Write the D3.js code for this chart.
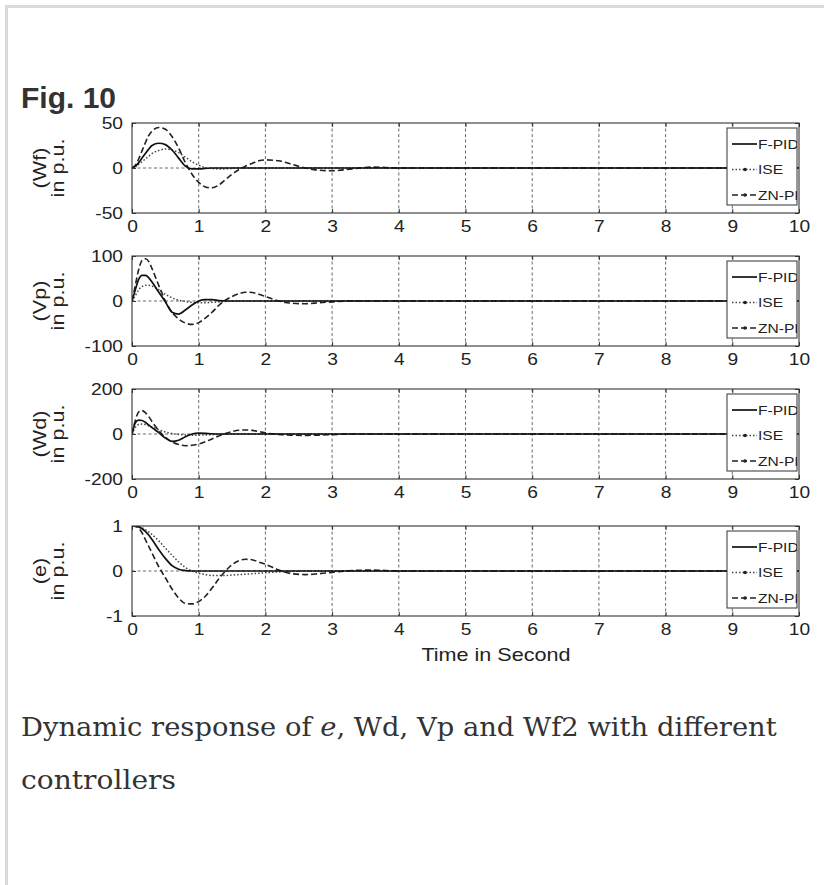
<!DOCTYPE html>
<html>
<head>
<meta charset="utf-8">
<script src="https://cdn.jsdelivr.net/npm/d3@7"></script>
<style>
  body { margin: 0; background: #fff; }
  svg { display: block; }
</style>
</head>
<body>
<div id="chart"></div>
<script>
// time axis (s) and the read-off values for each panel / controller
var TIME = [0, 0.05, 0.1, 0.15, 0.2, 0.25, 0.3, 0.4, 0.5, 0.6, 0.7, 0.8, 0.9, 1.0, 1.1, 1.2, 1.3, 1.4, 1.5, 1.6, 1.7, 1.8, 1.9, 2.0, 2.2, 2.4, 2.6, 2.8, 3.0, 3.3, 3.6, 4.0, 5, 6, 7, 8, 9, 10];

var WF_FPID = [0, 2, 6, 11, 16, 21, 25, 27.5, 26, 20, 11, 2, -1, -1, -0.5, 0, 0, 0, 0, 0, 0, 0, 0, 0, 0, 0, 0, 0, 0, 0, 0, 0, 0, 0, 0, 0, 0, 0];
var WF_ISE  = [0, 1, 4, 7, 10, 13, 16, 19.5, 21, 20, 17, 12, 7, 3, 0.5, -0.5, -1, -1, -0.5, 0, 0, 0, 0, 0, 0, 0, 0, 0, 0, 0, 0, 0, 0, 0, 0, 0, 0, 0];
var WF_ZNPI = [0, 3, 10, 19, 28, 36, 41, 45, 43, 35, 22, 6, -7, -16, -21, -22, -19, -13, -7, -2, 2, 5, 8, 9, 8, 4, 0, -2.5, -3, -1, 1, 0, 0, 0, 0, 0, 0, 0];

var VP_FPID = [0, 25, 48, 57, 57, 52, 42, 20, -2, -25, -29, -20, -9, 0, 3, 3, 1, 0, 0, 0, 0, 0, 0, 0, 0, 0, 0, 0, 0, 0, 0, 0, 0, 0, 0, 0, 0, 0];
var VP_ISE  = [0, 12, 25, 32, 35, 35, 33, 25, 15, 7, 2, -1, -3, -4, -4, -3, -2, -1, 0, 0, 0, 0, 0, 0, 0, 0, 0, 0, 0, 0, 0, 0, 0, 0, 0, 0, 0, 0];
var VP_ZNPI = [0, 35, 70, 90, 94, 88, 72, 35, 0, -25, -40, -49, -52, -48, -38, -25, -10, 2, 10, 16, 19.5, 19, 15, 10, 0, -5, -6, -4, -2, 0, 0, 0, 0, 0, 0, 0, 0, 0];

var WD_FPID = [0, 50, 62, 60, 52, 40, 28, 6, -18, -33, -28, -12, 0, 4, 3, 1, 0, 0, 0, 0, 0, 0, 0, 0, 0, 0, 0, 0, 0, 0, 0, 0, 0, 0, 0, 0, 0, 0];
var WD_ISE  = [0, 30, 42, 44, 42, 37, 31, 19, 9, 2, -2, -4, -5, -5, -4, -3, -2, -1, 0, 0, 0, 0, 0, 0, 0, 0, 0, 0, 0, 0, 0, 0, 0, 0, 0, 0, 0, 0];
var WD_ZNPI = [0, 60, 98, 104, 95, 78, 55, 15, -15, -35, -47, -52, -50, -44, -34, -22, -9, 2, 11, 17, 18, 16, 11, 5, -2, -5, -6, -5, -3, 0, 0, 0, 0, 0, 0, 0, 0, 0];

var E_FPID = [1, 1, 0.98, 0.94, 0.88, 0.8, 0.7, 0.48, 0.28, 0.12, 0.04, 0.01, 0, 0, 0, 0, 0, 0, 0, 0, 0, 0, 0, 0, 0, 0, 0, 0, 0, 0, 0, 0, 0, 0, 0, 0, 0, 0];
var E_ISE  = [1, 1, 0.98, 0.96, 0.92, 0.87, 0.81, 0.67, 0.51, 0.35, 0.2, 0.08, 0, -0.05, -0.08, -0.1, -0.1, -0.1, -0.09, -0.08, -0.07, -0.06, -0.05, -0.04, -0.02, -0.01, 0, 0, 0, 0, 0, 0, 0, 0, 0, 0, 0, 0];
var E_ZNPI = [1, 0.99, 0.95, 0.85, 0.7, 0.55, 0.4, 0.1, -0.15, -0.4, -0.6, -0.72, -0.73, -0.68, -0.56, -0.38, -0.18, 0, 0.14, 0.23, 0.26, 0.25, 0.2, 0.15, 0.02, -0.06, -0.08, -0.06, -0.03, 0.01, 0.02, 0, 0, 0, 0, 0, 0, 0];

var X_TICKS = [0, 1, 2, 3, 4, 5, 6, 7, 8, 9, 10];
var WF_TICKS = [-50, 0, 50];
var VP_TICKS = [-100, 0, 100];
var WD_TICKS = [-200, 0, 200];
var E_TICKS = [-1, 0, 1];

var PANEL_NAMES = ["(Wf)", "(Vp)", "(Wd)", "(e)"];
var LEGEND_NAMES = ["F-PID", "ISE", "ZN-PI"];

var PANELS = [
    {name: PANEL_NAMES[0], ticks: WF_TICKS, series: [WF_FPID, WF_ISE, WF_ZNPI]},
    {name: PANEL_NAMES[1], ticks: VP_TICKS, series: [VP_FPID, VP_ISE, VP_ZNPI]},
    {name: PANEL_NAMES[2], ticks: WD_TICKS, series: [WD_FPID, WD_ISE, WD_ZNPI]},
    {name: PANEL_NAMES[3], ticks: E_TICKS, series: [E_FPID, E_ISE, E_ZNPI]}
];

// layout
var W = 824, H = 885;
var PLOT_LEFT = 132, PLOT_RIGHT = 799;
var PANEL_TOPS = [123, 256, 389, 526];
var PANEL_H = 90;
var SANS = "'Liberation Sans', Arial, Helvetica, sans-serif";
var SERIF = "'DejaVu Serif', Georgia, serif";
var STRETCH = 1.2;

var LINE_STYLES = [
    {stroke: "#111", width: 1.7, dash: null, marker: false},
    {stroke: "#444", width: 1.5, dash: "1.5,2", marker: true},
    {stroke: "#222", width: 1.6, dash: "6,3", marker: true}
];

var svg = d3.select("#chart").append("svg")
    .attr("width", W)
    .attr("height", H);

// page frame
svg.append("rect")
    .attr("x", 6.5).attr("y", 6.5)
    .attr("width", W + 20).attr("height", H + 20)
    .attr("fill", "none")
    .attr("stroke", "#dadada")
    .attr("stroke-width", 3);

svg.append("text")
    .attr("x", 21).attr("y", 108)
    .attr("font-family", SANS)
    .attr("font-weight", "bold")
    .attr("font-size", 30)
    .attr("fill", "#333")
    .text("Fig. 10");

let xScale = d3.scaleLinear().domain([0, 10]).range([PLOT_LEFT, PLOT_RIGHT]);

// widen text horizontally around its own anchor
const stretchText = (sel) => {
    sel.each(function() {
        let t = d3.select(this);
        let x = +t.attr("x") || 0;
        t.attr("x", x / STRETCH).attr("transform", "scale(" + STRETCH + ",1)");
    });
}

PANELS.forEach((panel, pi) => {
    let top = PANEL_TOPS[pi];
    let bottom = top + PANEL_H;
    let yScale = d3.scaleLinear()
        .domain([panel.ticks[0], panel.ticks[panel.ticks.length - 1]])
        .range([bottom, top]);

    let g = svg.append("g");

    // grid (dotted MATLAB style)
    X_TICKS.slice(1, -1).forEach((t) => {
        g.append("line")
            .attr("x1", xScale(t)).attr("x2", xScale(t))
            .attr("y1", top).attr("y2", bottom)
            .attr("stroke", "#444")
            .attr("stroke-width", 0.8)
            .attr("stroke-dasharray", "3,2.5");
    });
    panel.ticks.slice(1, -1).forEach((t) => {
        g.append("line")
            .attr("x1", PLOT_LEFT).attr("x2", PLOT_RIGHT)
            .attr("y1", yScale(t)).attr("y2", yScale(t))
            .attr("stroke", "#444")
            .attr("stroke-width", 0.8)
            .attr("stroke-dasharray", "3,2.5");
    });

    // clip for curves
    let clipId = "clip" + pi;
    svg.append("clipPath").attr("id", clipId)
        .append("rect")
            .attr("x", PLOT_LEFT).attr("y", top)
            .attr("width", PLOT_RIGHT - PLOT_LEFT).attr("height", PANEL_H);

    // curves (ISE first, then ZN-PI, then F-PID on top)
    [1, 2, 0].forEach((si) => {
        let vals = panel.series[si];
        let st = LINE_STYLES[si];
        g.append("path")
            .datum(TIME.map((t, i) => [t, vals[i]]))
            .attr("clip-path", "url(#" + clipId + ")")
            .attr("fill", "none")
            .attr("stroke", st.stroke)
            .attr("stroke-width", st.width)
            .attr("stroke-dasharray", st.dash)
            .attr("d", d3.line()
                .curve(d3.curveMonotoneX)
                .x((d) => xScale(d[0]))
                .y((d) => yScale(d[1]))
            );
    });

    // axes
    let xAxisBottom = g.append("g")
        .attr("transform", "translate(0," + bottom + ")")
        .call(d3.axisBottom(xScale)
            .tickValues(X_TICKS)
            .tickSizeInner(-4)
            .tickSizeOuter(0)
            .tickPadding(8)
            .tickFormat((d) => String(d)));
    g.append("g")
        .attr("transform", "translate(0," + top + ")")
        .call(d3.axisTop(xScale)
            .tickValues(X_TICKS)
            .tickSizeInner(-4)
            .tickSizeOuter(0)
            .tickFormat(""));
    let yAxisLeft = g.append("g")
        .attr("transform", "translate(" + PLOT_LEFT + ",0)")
        .call(d3.axisLeft(yScale)
            .tickValues(panel.ticks)
            .tickSizeInner(-4)
            .tickSizeOuter(0)
            .tickPadding(9)
            .tickFormat((d) => String(d)));
    g.append("g")
        .attr("transform", "translate(" + PLOT_RIGHT + ",0)")
        .call(d3.axisRight(yScale)
            .tickValues(panel.ticks)
            .tickSizeInner(-4)
            .tickSizeOuter(0)
            .tickFormat(""));

    g.selectAll(".domain").remove();
    g.selectAll(".tick line").attr("stroke", "#333");
    g.selectAll(".tick text")
        .attr("font-family", SANS)
        .attr("font-size", 16)
        .attr("fill", "#222");
    stretchText(xAxisBottom.selectAll(".tick text"));
    stretchText(yAxisLeft.selectAll(".tick text"));

    // box
    g.append("rect")
        .attr("x", PLOT_LEFT).attr("y", top)
        .attr("width", PLOT_RIGHT - PLOT_LEFT).attr("height", PANEL_H)
        .attr("fill", "none")
        .attr("stroke", "#333")
        .attr("stroke-width", 1.1);

    // y label, two lines
    let cy = (top + bottom) / 2;
    [[panel.name, 46], ["in p.u.", 64]].forEach((l) => {
        g.append("text")
            .attr("transform", "translate(" + l[1] + "," + cy + ") rotate(-90) scale(1.2,1)")
            .attr("text-anchor", "middle")
            .attr("font-family", SANS)
            .attr("font-size", 18)
            .attr("fill", "#222")
            .text(l[0]);
    });

    // legend
    let lx = 727, ly = top + 5, lw = 70, lh = 77;
    let legClip = "legclip" + pi;
    svg.append("clipPath").attr("id", legClip)
        .append("rect").attr("x", lx).attr("y", ly).attr("width", lw).attr("height", lh);
    let leg = g.append("g");
    leg.append("rect")
        .attr("x", lx).attr("y", ly)
        .attr("width", lw).attr("height", lh)
        .attr("fill", "#fff")
        .attr("stroke", "#333")
        .attr("stroke-width", 1);
    let legInner = leg.append("g").attr("clip-path", "url(#" + legClip + ")");
    LEGEND_NAMES.forEach((name, i) => {
        let st = LINE_STYLES[i];
        let yy = ly + 16 + i * 25.5;
        legInner.append("line")
            .attr("x1", lx + 5).attr("x2", lx + 30)
            .attr("y1", yy).attr("y2", yy)
            .attr("stroke", st.stroke)
            .attr("stroke-width", st.width)
            .attr("stroke-dasharray", st.dash);
        if(st.marker) {
            legInner.append("circle")
                .attr("cx", lx + 18).attr("cy", yy)
                .attr("r", 1.8)
                .attr("fill", "#222");
        }
        let t = legInner.append("text")
            .attr("x", lx + 31).attr("y", yy + 5)
            .attr("font-family", SANS)
            .attr("font-size", 13)
            .attr("fill", "#222")
            .text(name);
        stretchText(t);
    });
});

// x label
let xl = svg.append("text")
    .attr("x", 496).attr("y", 661)
    .attr("text-anchor", "middle")
    .attr("font-family", SANS)
    .attr("font-size", 18)
    .attr("fill", "#222")
    .text("Time in Second");
stretchText(xl);

// caption: scaled to the width it has in the reference
const fitText = (sel, x, y, width) => {
    let natural = sel.node().getComputedTextLength();
    sel.attr("x", 0).attr("y", 0)
        .attr("transform", "translate(" + x + "," + y + ") scale(" + (width / natural) + ",1)");
}

let cap = svg.append("text")
    .attr("font-family", SERIF)
    .attr("font-size", 26)
    .attr("fill", "#333");
cap.append("tspan").text("Dynamic response of ");
cap.append("tspan").attr("font-style", "italic").text("e");
cap.append("tspan").text(", Wd, Vp and Wf2 with different");
fitText(cap, 21, 736, 756);

let cap2 = svg.append("text")
    .attr("font-family", SERIF)
    .attr("font-size", 26)
    .attr("fill", "#333")
    .text("controllers");
fitText(cap2, 21, 789, 155);
</script>
</body>
</html>
